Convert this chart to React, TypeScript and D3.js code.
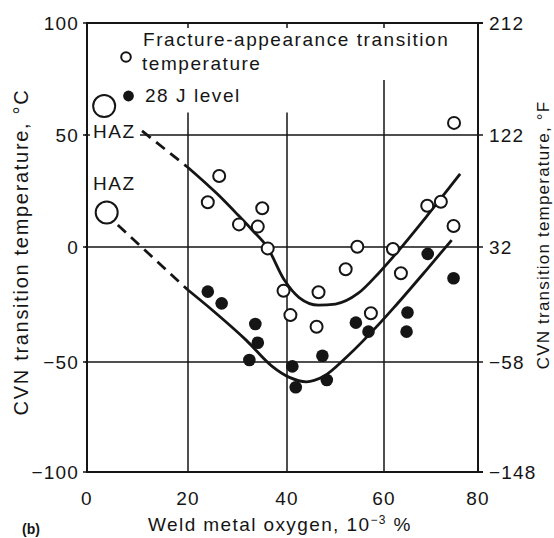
import React from "react";
import * as d3 from "d3";

// ---- data ----
const xTicks = [0, 20, 40, 60, 80];
const cTicks = [100, 50, 0, -50, -100];
const fTicks = [212, 122, 32, -58, -148];
const xGrid = [20, 40, 60];
const xGridTop = [60, 60, 74.5]; // vertical grid lines stop below the legend
const yGrid = [50, 0, -50];

// Fracture-appearance transition temperature (open circles)
const fattX = [26.3, 24.0, 30.3, 34.1, 35.0, 36.1, 39.3, 40.7, 46.5, 46.1, 52.1, 54.5, 57.3, 61.9, 63.6, 69.2, 72.1, 74.8, 74.9];
const fattY = [31.7, 20.0, 10.1, 9.1, 17.3, -0.6, -19.0, -29.6, -19.7, -34.7, -9.7, 0.1, -28.8, -0.9, -11.4, 18.4, 20.2, 9.4, 55.4];

// 28 J level (filled circles)
const j28X = [24.0, 26.8, 33.6, 34.1, 32.4, 41.1, 41.8, 47.3, 48.2, 54.2, 56.8, 65.0, 64.8, 69.3, 74.8];
const j28Y = [-19.4, -24.5, -33.5, -41.6, -49.1, -52.0, -61.5, -47.3, -58.2, -32.9, -36.8, -28.5, -36.8, -3.0, -13.6];

// HAZ values
const hazX = [3.4, 3.9];
const hazY = [62.9, 15.4];

// fitted curves
const upperDashX = [10.9, 20];
const upperDashY = [51.8, 35.5];
const upperX = [20, 26, 30, 33, 36, 39.5, 42.5, 46.5, 50, 54.7, 58.8, 62, 69, 76.2];
const upperY = [35.5, 23.5, 14.5, 7.5, 0, -14.5, -22, -25.3, -24.8, -20.1, -11.6, -4.2, 13.5, 32.6];
const lowerDashX = [6.1, 20];
const lowerDashY = [9.8, -18.7];
const lowerX = [20, 25, 31.8, 37, 40.5, 44, 47.5, 52.3, 59.2, 62, 69.1, 74.4];
const lowerY = [-18.7, -27.6, -40.6, -52.0, -57.0, -59.0, -56.6, -47.8, -33, -26.6, -9.8, 3.1];

const FONT = "'Liberation Sans', Arial, Helvetica, sans-serif";
const INK = "#151515";

export default function App() {
  const x = d3.scaleLinear().domain([0, 20, 40, 60, 80]).range([87, 188, 287, 384, 478]);
  const y = d3.scaleLinear().domain([100, 50, 0, -50, -100]).range([23, 135, 247, 362, 472]);
  const fToC = (f: number) => ((f - 32) * 5) / 9;

  const zip = (a: number[], b: number[]) => a.map((v, i) => [v, b[i]] as [number, number]);
  const line = d3
    .line<[number, number]>()
    .x((d) => x(d[0]))
    .y((d) => y(d[1]))
    .curve(d3.curveMonotoneX);
  const straight = d3
    .line<[number, number]>()
    .x((d) => x(d[0]))
    .y((d) => y(d[1]));

  const x0 = x(0), x1 = x(80), yTop = y(100), yBot = y(-100);

  const tickStyle = { fontFamily: FONT, fontSize: 19, letterSpacing: 1.2, fill: INK } as const;

  return (
    <svg
      width={554}
      height={538}
      style={{ position: "absolute", left: 0, top: 0, background: "#fff" }}
    >
      <rect x={0} y={0} width={554} height={538} fill="#fff" />
      {/* horizontal grid lines (extend slightly outside on the right) */}
      {yGrid.map((v) => (
        <line key={"hg" + v} x1={x0 - 2} x2={x1 + 5} y1={y(v)} y2={y(v)} stroke={INK} strokeWidth={1.5} />
      ))}
      {/* vertical grid lines */}
      {xGrid.map((v, i) => (
        <g key={"vg" + v}>
          <line x1={x(v)} x2={x(v)} y1={y(xGridTop[i])} y2={yBot} stroke={INK} strokeWidth={1.5} />
          <line x1={x(v)} x2={x(v)} y1={yTop} y2={yTop + 5} stroke={INK} strokeWidth={1.5} />
        </g>
      ))}
      {/* frame */}
      <rect x={x0} y={yTop} width={x1 - x0} height={yBot - yTop} fill="none" stroke={INK} strokeWidth={2} />
      <line x1={x1} x2={x1 + 5} y1={yTop} y2={yTop} stroke={INK} strokeWidth={2} />
      <line x1={x1} x2={x1 + 5} y1={yBot} y2={yBot} stroke={INK} strokeWidth={2} />

      {/* HAZ label knock-out on the 50 line */}
      <rect x={x0 + 3} y={y(50) - 12} width={50} height={18} fill="#fff" />

      {/* curves */}
      <path d={straight(zip(upperDashX, upperDashY)) || ""} fill="none" stroke={INK} strokeWidth={2.8} strokeDasharray="11 7" />
      <path d={line(zip(upperX, upperY)) || ""} fill="none" stroke={INK} strokeWidth={2.8} />
      <path d={straight(zip(lowerDashX, lowerDashY)) || ""} fill="none" stroke={INK} strokeWidth={2.8} strokeDasharray="11 7" />
      <path d={line(zip(lowerX, lowerY)) || ""} fill="none" stroke={INK} strokeWidth={2.8} />

      {/* points */}
      {zip(fattX, fattY).map((d, i) => (
        <circle key={"o" + i} cx={x(d[0])} cy={y(d[1])} r={6} fill="#fff" stroke={INK} strokeWidth={2} />
      ))}
      {zip(j28X, j28Y).map((d, i) => (
        <circle key={"f" + i} cx={x(d[0])} cy={y(d[1])} r={6.3} fill={INK} />
      ))}
      {zip(hazX, hazY).map((d, i) => (
        <circle key={"h" + i} cx={x(d[0])} cy={y(d[1])} r={11} fill="#fff" stroke={INK} strokeWidth={2} />
      ))}

      {/* HAZ labels */}
      <text x={x0 + 6} y={y(50) + 3} {...tickStyle} letterSpacing={1.6}>HAZ</text>
      <text x={x0 + 6} y={190} {...tickStyle} letterSpacing={1.6}>HAZ</text>

      {/* legend */}
      <circle cx={126} cy={57} r={4.8} fill="#fff" stroke={INK} strokeWidth={2} />
      <circle cx={128.5} cy={96} r={5.4} fill={INK} />
      <g fontFamily={FONT} fontSize={19} fill={INK} letterSpacing={1.55}>
        <text x={143} y={46}>Fracture-appearance transition</text>
        <text x={142} y={70}>temperature</text>
        <text x={145} y={102}>28 J level</text>
      </g>

      {/* left ticks / labels (°C) */}
      {cTicks.map((v) => (
        <g key={"c" + v}>
          <line x1={x0 - 4} x2={x0} y1={y(v)} y2={y(v)} stroke={INK} strokeWidth={1.5} />
          <text x={79} y={y(v) + 7} textAnchor="end" {...tickStyle}>
            {v < 0 ? "\u2212" + Math.abs(v) : String(v)}
          </text>
        </g>
      ))}
      {/* right labels (°F) */}
      {fTicks.map((f) => (
        <text key={"f" + f} x={489} y={y(fToC(f)) + 7} {...tickStyle}>
          {f < 0 ? "\u2212" + Math.abs(f) : String(f)}
        </text>
      ))}
      {/* bottom labels */}
      {xTicks.map((v) => (
        <text key={"x" + v} x={x(v)} y={505} textAnchor="middle" {...tickStyle}>
          {String(v)}
        </text>
      ))}

      {/* axis titles */}
      <text
        transform="translate(28,252) rotate(-90)"
        textAnchor="middle"
        fontFamily={FONT}
        fontSize={20}
        letterSpacing={1.7}
        fill={INK}
      >
        CVN transition temperature, °C
      </text>
      <text
        transform="translate(549,235) rotate(-90)"
        textAnchor="middle"
        fontFamily={FONT}
        fontSize={17}
        letterSpacing={1.2}
        fill={INK}
      >
        CVN transition temperature, °F
      </text>
      <text x={280} y={531} textAnchor="middle" fontFamily={FONT} fontSize={19} letterSpacing={1.4} fill={INK}>
        Weld metal oxygen, 10
        <tspan fontSize={12} dy={-7}>{"\u22123"}</tspan>
        <tspan dy={7}> %</tspan>
      </text>
      <text x={22} y={534} fontFamily={FONT} fontSize={14} fontWeight="bold" fill={INK}>(b)</text>
    </svg>
  );
}
